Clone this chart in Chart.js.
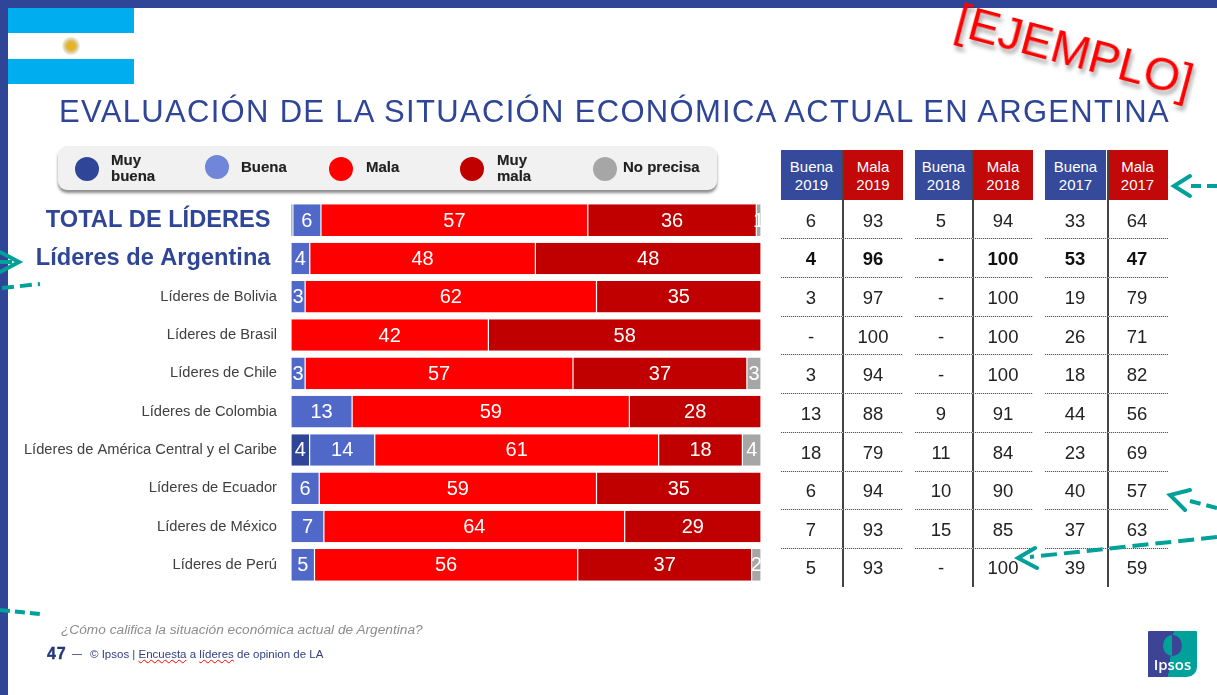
<!DOCTYPE html>
<html lang="es"><head><meta charset="utf-8">
<script src="https://cdn.jsdelivr.net/npm/chart.js@4"></script>
<style>
html,body{margin:0;padding:0;background:#fff}
body{width:1217px;height:695px;position:relative;overflow:hidden;font-family:"Liberation Sans",Arial,sans-serif}
.a{position:absolute;white-space:nowrap}
#c{position:absolute;left:0;top:0}
.h{position:absolute;top:150px;height:50px;color:#fff;font-size:15px;line-height:17.5px;text-align:center;padding-top:8px;box-sizing:border-box;opacity:.97}
.v{position:absolute;font-size:18.5px;color:#222;width:60px;text-align:center;line-height:22px;transform:translateX(-30px)}
.d{position:absolute;height:1px;background:repeating-linear-gradient(90deg,#555 0 1px,#ddd 1px 2px)}
.s{position:absolute;top:150px;width:2px;height:437px;background:#444}
.l{position:absolute;font-weight:bold;font-size:15px;line-height:16px;color:#222;-webkit-text-stroke:.15px #222}
.o{position:absolute;border-radius:50%}
</style></head><body>
<canvas id="c" width="1217" height="695"></canvas>
<div class="a" style="left:0;top:0;width:1217px;height:8px;background:#2F4598"></div>
<div class="a" style="left:0;top:0;width:8px;height:695px;background:#2F4598"></div>
<div class="a" style="left:8px;top:8px;width:126px;height:76px;background:linear-gradient(#00AEEF 0 25px,#fff 25px 51px,#00AEEF 51px)"></div>
<div class="a" style="left:62px;top:36px;width:18px;height:20px;border-radius:50%;background:radial-gradient(circle,#E6B422 0 4px,#D8C898 6px,#fff 10px)"></div>
<div class="a" id="title" style="left:59px;top:93px;font-size:31px;line-height:38px;letter-spacing:1.32px;color:#2F4598">EVALUACIÓN DE LA SITUACIÓN ECONÓMICA ACTUAL EN ARGENTINA</div>
<div class="a" style="left:957px;top:-6px;font-size:46.6px;line-height:50px;color:#FF0000;transform-origin:0 50%;transform:rotate(15deg);text-shadow:3px 4px 4px rgba(0,0,0,.35)">[EJEMPLO]</div>
<div class="a" style="left:58px;top:146px;width:659px;height:44px;border-radius:9px;background:#F1F1F1;box-shadow:0 3px 3px rgba(0,0,0,.45)"></div>
<div id="legend"></div>
<div id="table"></div>
<svg class="a" style="left:0;top:0" width="1217" height="695" fill="none" stroke="#00A19A" stroke-width="4">
<path d="M1217 186L1186 186" stroke-dasharray="10 6"/><path d="M1190 176L1174 186L1190 196" stroke-linecap="round"/>
<path d="M1217 508L1190 501" stroke-dasharray="11 6"/><path d="M1190 490L1170 495L1185 510" stroke-linecap="round"/>
<path d="M1217 537L1030 557" stroke-dasharray="16 7"/><path d="M1035 548L1018 558L1037 568" stroke-linecap="round"/>
<path d="M0 252L19 262L0 272" stroke-linecap="round"/><path d="M0 262L12 262"/><path d="M2 288L40 284" stroke-dasharray="12 6"/>
<path d="M0 610L40 614" stroke-dasharray="10 5"/>
</svg>
<div class="a" style="left:61px;top:621px;font-size:13.7px;line-height:17px;font-style:italic;color:#8C8C8C">¿Cómo califica la situación económica actual de Argentina?</div>
<div class="a" style="left:47px;top:645px;font-size:16px;line-height:18px;letter-spacing:.8px;font-weight:bold;color:#24367E;-webkit-text-stroke:.4px #24367E">47</div>
<div class="a" style="left:72px;top:645px;font-size:10px;line-height:18px;color:#24367E">—</div>
<div class="a" style="left:90px;top:647px;font-size:11.5px;line-height:15px;color:#2F3F85">© Ipsos | <span style="text-decoration:underline wavy red 1px">Encuesta</span> a <span style="text-decoration:underline wavy red 1px">líderes</span> de opinion de LA</div>
<div class="a" style="left:1148px;top:631px;width:49px;height:46px;border-radius:1px 1px 10px 0;background:linear-gradient(97deg,#3D4496 0 47%,#00A19A 47%);overflow:hidden;color:#fff;font-size:15px;font-weight:600;text-align:center;line-height:18px">
<div style="position:absolute;left:15px;top:4px;width:19px;height:21px;border-radius:50%;background:linear-gradient(90deg,#00A19A 50%,#3D4496 50%)"></div>
<div style="position:absolute;left:0;top:24px;width:49px;font-family:'Open Sans'">Ipsos</div></div>
<script>
// Bar chart data (values as printed on the bars)
const categories=["TOTAL DE LÍDERES","Líderes de Argentina","Líderes de Bolivia","Líderes de Brasil","Líderes de Chile","Líderes de Colombia","Líderes de América Central y el Caribe","Líderes de Ecuador","Líderes de México","Líderes de Perú"];
const muyBuena=[0.4,0,0,0,0,0,4,0,0,0];
const buena=[6,4,3,0,3,13,14,6,7,5];
const mala=[57,48,62,42,57,59,61,59,64,56];
const muyMala=[36,48,35,58,37,28,18,35,29,37];
const noPrecisa=[1,0,0,0,3,0,4,0,0,2];
const seriesNames=["Muy buena","Buena","Mala","Muy mala","No precisa"];
const barColors=["#2F4598","#5068C8","#FF0000","#C00000","#A6A6A6"];
const legendColors=["#2F4598","#7086D8","#FF0000","#C00000","#A6A6A6"];
// Side table
const tableHeaders=[["Buena","2019"],["Mala","2019"],["Buena","2018"],["Mala","2018"],["Buena","2017"],["Mala","2017"]];
const buena2019=["6","4","3","-","3","13","18","6","7","5"];
const mala2019=["93","96","97","100","94","88","79","94","93","93"];
const buena2018=["5","-","-","-","-","9","11","10","15","-"];
const mala2018=["94","100","100","100","100","91","84","90","85","100"];
const buena2017=["33","53","19","26","18","44","23","40","37","39"];
const mala2017=["64","47","79","71","82","56","69","57","63","59"];

const seriesValues=[muyBuena,buena,mala,muyMala,noPrecisa];
const rowTotals=categories.map((_,r)=>seriesValues.reduce((t,s)=>t+s[r],0));
const datasets=seriesValues.map((vals,i)=>({label:seriesNames[i],raw:vals,
  data:vals.map((v,r)=>v/rowTotals[r]*100),backgroundColor:barColors[i],
  borderColor:"rgba(255,255,255,.75)",borderWidth:v=>v.raw>0?{left:0.6,right:0.6,top:0,bottom:0}:0,borderSkipped:false}));

const valueLabels={id:"valueLabels",afterDatasetsDraw(ch){
  const g=ch.ctx;g.save();g.font='20px "Liberation Sans"';g.fillStyle="#fff";g.textAlign="center";g.textBaseline="middle";
  ch.data.datasets.forEach((d,i)=>{ch.getDatasetMeta(i).data.forEach((el,r)=>{
    const v=d.raw[r];if(v<1)return;const p=el.getCenterPoint();g.fillText(String(v),p.x,p.y+1);});});
  g.restore();}};

new Chart(document.getElementById("c"),{type:"bar",
 data:{labels:categories,datasets},
 plugins:[valueLabels],
 options:{indexAxis:"y",responsive:false,animation:false,
  layout:{padding:{left:0,top:201,right:456,bottom:111}},
  plugins:{legend:{display:false},tooltip:{enabled:false}},
  scales:{
   x:{display:false,stacked:true,min:0,max:100},
   y:{stacked:true,grid:{display:false,drawTicks:false},border:{display:false},
      afterFit(s){s.width=291;},
      ticks:{autoSkip:false,padding:14,
        callback(v,i){return this.getLabelForValue(v)+(i<2?" ":"");},
        color:c=>c.index<2?"#2F4598":"#404040",
        font:c=>c.index<2?{family:'"Liberation Sans"',size:23.6,weight:"bold"}:{family:'"Liberation Sans"',size:14.7}}}
  },
  datasets:{bar:{categoryPercentage:1,barPercentage:0.825}}
 }});

// Legend panel
const legendPos=[{x:86.5,y:169,tx:111},{x:216.5,y:167,tx:241},{x:340.5,y:169,tx:366},{x:472,y:169,tx:497},{x:604.5,y:169,tx:623}];
document.getElementById("legend").innerHTML=seriesNames.map((n,i)=>{const p=legendPos[i],w=n.split(" ");
 const two=n.startsWith("Muy");
 return `<div class="o" style="left:${p.x-12}px;top:${p.y-12}px;width:24px;height:24px;background:${legendColors[i]}"></div>`+
  `<div class="l" style="left:${p.tx}px;top:${two?152:159}px;white-space:nowrap">${two?w[0]+"<br>"+w[1]:n}</div>`;}).join("");

// Side table
const cols=[buena2019,mala2019,buena2018,mala2018,buena2017,mala2017];
const cx=[811,873,941,1003,1075,1137];
const hx=[[781,61],[843,60],[915,57],[973,60],[1045,61],[1107,61]];
const hc=["#2F4598","#C00000"];
let html="";
tableHeaders.forEach((h,i)=>{html+=`<div class="h" style="left:${hx[i][0]}px;width:${hx[i][1]}px;background:${hc[i%2]}">${h[0]}<br>${h[1]}</div>`;});
[841.5,971.5,1106.5].forEach(x=>{html+=`<div class="s" style="left:${x}px"></div>`;});
for(let r=0;r<10;r++){const yc=220.6+r*38.65;
 cols.forEach((c,i)=>{html+=`<div class="v" style="left:${cx[i]}px;top:${yc-11}px;${r===1?"font-weight:bold;color:#111":""}">${c[r]}</div>`;});
 if(r<9){const y=238+r*38.75;[[781,122],[915,118],[1045,123]].forEach(d=>{html+=`<div class="d" style="left:${d[0]}px;top:${Math.round(y)}px;width:${d[1]}px"></div>`;});}
}
document.getElementById("table").innerHTML=html;
</script>
</body></html>
